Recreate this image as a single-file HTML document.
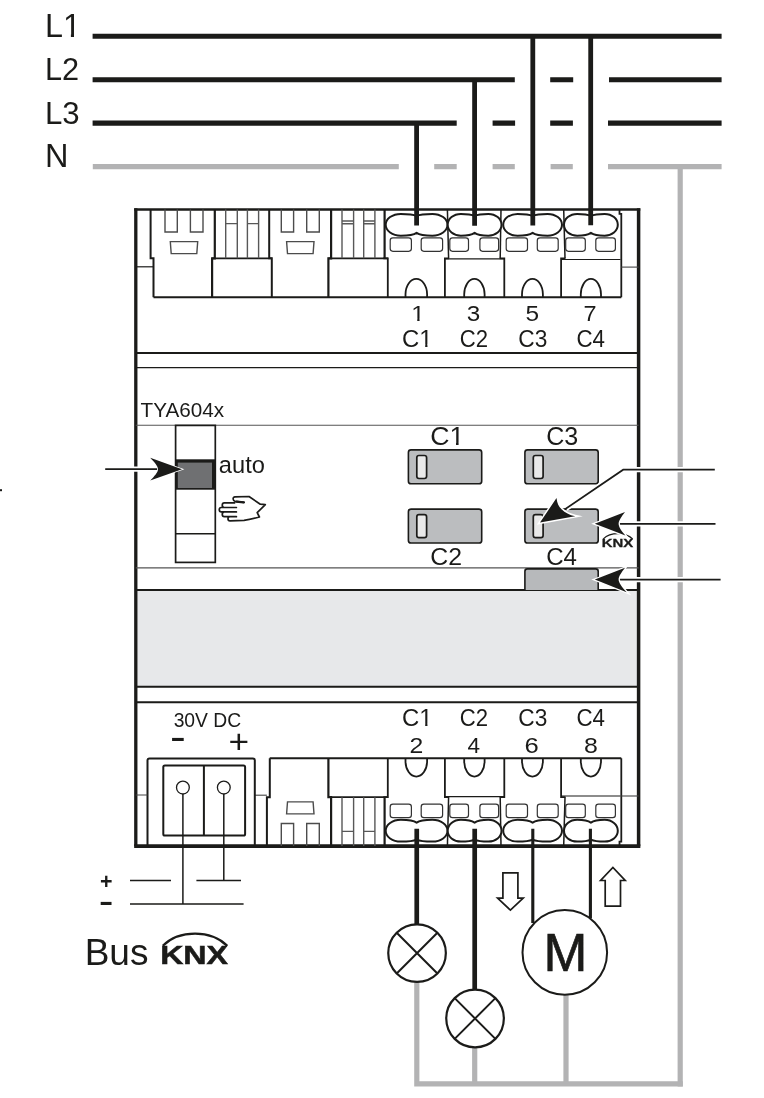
<!DOCTYPE html>
<html><head><meta charset="utf-8"><title>TYA604x</title>
<style>
html,body{margin:0;padding:0;background:#fff}
svg{display:block}
text{font-family:"Liberation Sans",sans-serif;fill:#1b1b19}
svg{will-change:transform}
</style></head><body>
<svg width="764" height="1098" viewBox="0 0 764 1098">
<rect width="764" height="1098" fill="#fff"/>

<g stroke="#1b1b19" stroke-width="5.1" fill="none">
<path d="M92.6,36.2H721.6"/>
<path d="M92.6,79.7H514.8M550.2,79.7H573.2M609,79.7H721.6"/>
<path d="M92.6,123.1H456.7M492.6,123.1H515.1M550.2,123.1H572.9M608,123.1H721.6"/>
</g>
<g stroke="#b3b3b4" stroke-width="5.2" fill="none">
<path d="M92.8,166.6H398.8M434.2,166.6H456.7M492.6,166.6H514.8M550.6,166.6H572.8M608,166.6H721.6"/>
<path d="M680.2,166.6V1086.4"/>
<path d="M416.8,980V1083.8H682.8"/>
<path d="M474.7,1046V1083.8M566,993V1083.8"/>
</g>
<rect x="135.8" y="590" width="502.8" height="96.8" fill="#e7e8ea"/>
<g stroke="#1b1b19" fill="none">
<path d="M135.8,208.3V846.2" stroke-width="3.3"/><path d="M638.6,208.3V846.2" stroke-width="3.5"/>
<path d="M134.15,846.2H640.35" stroke-width="3.8"/>
<path d="M134.20000000000002,209.5H640.3000000000001" stroke-width="2.5"/>
<path d="M135.8,353.1H638.6M135.8,590H638.6M135.8,686.8H638.6M135.8,702.2H638.6" stroke-width="2"/>
<path d="M135.8,367.6H638.6" stroke-width="1.1"/>
<path d="M135.8,425.2H638.6M135.8,567.9H638.6" stroke-width="1.1" stroke="#555"/>
</g>
<g fill="none" stroke="#1b1b19">
<path d="M153.5,297.3H621.3" stroke-width="2"/>
<path d="M150.6,209.5V258.3H153.5V297.3" stroke-width="2"/>
<path d="M135.8,266.8H153.5" stroke-width="1.2"/>
<g stroke="#4c4c4c" stroke-width="1.4">
<path d="M165,209.5V232H177.3V209.5M190.4,209.5V232H203V209.5"/>
<path d="M170.3,241.6H197.7L196.8,253.6H171.2Z"/>
</g>
<path d="M214.8,209.5V258.3H212.1V297.3" stroke-width="2.2"/>
<path d="M212.1,258.3H271.8" stroke-width="1.8"/>
<path d="M269.2,209.5V258.3H271.8V297.3" stroke-width="2"/>
<g stroke="#585858" stroke-width="1.4">
<path d="M225.7,209.5V258.3M237.3,209.5V258.3M247.4,209.5V258.3M258.6,209.5V258.3"/>
<path d="M225.7,223.6H237.3M247.4,223.6H258.6"/>
</g>
<g stroke="#4c4c4c" stroke-width="1.4">
<path d="M281.3,209.5V232H293.6V209.5M306.7,209.5V232H319.3V209.5"/>
<path d="M286.6,241.6H314.0L313.1,253.6H287.5Z"/>
</g>
<path d="M331.1,209.5V258.3H328.4V297.3" stroke-width="2.2"/>
<path d="M328.4,258.3H388.1" stroke-width="1.8"/>
<g stroke="#585858" stroke-width="1.4">
<path d="M342.0,209.5V258.3M353.6,209.5V258.3M363.7,209.5V258.3M374.90000000000003,209.5V258.3"/>
<path d="M342.0,221H353.6M363.7,221H374.90000000000003M342.0,223.7H353.6M363.7,223.7H374.90000000000003"/>
</g>
<path d="M384.6,209.5V258.3" stroke-width="2.2"/>
<path d="M383.3,258.3H387.8V297.3" stroke-width="1.8"/>
<path d="M447.4,209.5L448.6,258.3" stroke-width="1.5"/>
<path d="M449.1,258.3H444.9V297.3" stroke-width="1.8"/>
<path d="M444.9,258.90000000000003H504.3" stroke-width="1.4"/>
<path d="M501,209.5L500.2,258.3" stroke-width="1.5"/>
<path d="M499.7,258.3H504.3V297.3" stroke-width="1.8"/>
<path d="M563.7,209.5L565,258.3" stroke-width="1.5"/>
<path d="M565.5,258.3H561.1V297.3" stroke-width="1.8"/>
<path d="M561.1,259.5H620.5" stroke-width="1.2"/>
<path d="M619.5,209.5V213.8H621.3V297.3" stroke-width="1.8"/>
<path d="M621.3,267.1H638.6" stroke-width="1.1" stroke="#444"/>
<path d="M416.60,215.90 C413.20,214.25 406.83,213.90 400.84,213.90 C392.36,213.90 385.70,218.70 385.70,224.80 C385.70,230.90 392.36,235.70 400.84,235.70 C406.83,235.70 413.20,235.35 416.60,232.90 C420.00,235.35 426.37,235.70 432.36,235.70 C440.84,235.70 447.50,230.90 447.50,224.80 C447.50,218.70 440.84,213.90 432.36,213.90 C426.37,213.90 420.00,214.25 416.60,215.90 Z" stroke-width="2" fill="#fff"/>
<rect x="390.2" y="237.8" width="21.2" height="13.5" rx="2.7" stroke="#333" stroke-width="1.2"/>
<rect x="421.2" y="237.8" width="21.4" height="13.5" rx="2.7" stroke="#333" stroke-width="1.2"/>
<path d="M405.5,297.3V294.3A10.80 15.4 0 0 1 427.1,294.3V297.3" stroke-width="1.8"/>
<path d="M474.60,215.90 C471.20,214.25 466.09,213.90 460.88,213.90 C453.50,213.90 447.70,218.70 447.70,224.80 C447.70,230.90 453.50,235.70 460.88,235.70 C466.09,235.70 471.20,235.35 474.60,232.90 C478.00,235.35 483.11,235.70 488.32,235.70 C495.70,235.70 501.50,230.90 501.50,224.80 C501.50,218.70 495.70,213.90 488.32,213.90 C483.11,213.90 478.00,214.25 474.60,215.90 Z" stroke-width="2" fill="#fff"/>
<rect x="449.8" y="237.8" width="18.7" height="13.5" rx="2.7" stroke="#333" stroke-width="1.2"/>
<rect x="479.9" y="237.8" width="18.7" height="13.5" rx="2.7" stroke="#333" stroke-width="1.2"/>
<path d="M464.2,297.3V294.3A10.20 15.4 0 0 1 484.6,294.3V297.3" stroke-width="1.8"/>
<path d="M532.60,215.90 C529.20,214.25 523.30,213.90 517.61,213.90 C509.54,213.90 503.20,218.70 503.20,224.80 C503.20,230.90 509.54,235.70 517.61,235.70 C523.30,235.70 529.20,235.35 532.60,232.90 C536.00,235.35 541.90,235.70 547.59,235.70 C555.66,235.70 562.00,230.90 562.00,224.80 C562.00,218.70 555.66,213.90 547.59,213.90 C541.90,213.90 536.00,214.25 532.60,215.90 Z" stroke-width="2" fill="#fff"/>
<rect x="506.2" y="237.8" width="21.3" height="13.5" rx="2.7" stroke="#333" stroke-width="1.2"/>
<rect x="537.3" y="237.8" width="20.9" height="13.5" rx="2.7" stroke="#333" stroke-width="1.2"/>
<path d="M522.0,297.3V294.3A10.45 15.4 0 0 1 542.9,294.3V297.3" stroke-width="1.8"/>
<path d="M590.90,215.90 C587.50,214.25 582.39,213.90 577.18,213.90 C569.80,213.90 564.00,218.70 564.00,224.80 C564.00,230.90 569.80,235.70 577.18,235.70 C582.39,235.70 587.50,235.35 590.90,232.90 C594.30,235.35 599.41,235.70 604.62,235.70 C612.00,235.70 617.80,230.90 617.80,224.80 C617.80,218.70 612.00,213.90 604.62,213.90 C599.41,213.90 594.30,214.25 590.90,215.90 Z" stroke-width="2" fill="#fff"/>
<rect x="565.7" y="237.8" width="19.6" height="13.5" rx="2.7" stroke="#333" stroke-width="1.2"/>
<rect x="595.8" y="237.8" width="19.6" height="13.5" rx="2.7" stroke="#333" stroke-width="1.2"/>
<path d="M580.8,297.3V294.3A10.10 15.4 0 0 1 601.0,294.3V297.3" stroke-width="1.8"/>
</g>
<g transform="translate(0,1055.5) scale(1,-1)" fill="none" stroke="#1b1b19">
<path d="M269.7,297.3H621.3" stroke-width="2"/>
<path d="M266.9,209.5V258.3H269.8V297.3" stroke-width="2"/>
<path d="M254.8,260.3H266.9" stroke-width="1.1" stroke="#444"/>
<g stroke="#4c4c4c" stroke-width="1.4">
<path d="M281.3,209.5V232H293.6V209.5M306.7,209.5V232H319.3V209.5"/>
<path d="M286.6,241.6H314.0L313.1,253.6H287.5Z"/>
</g>
<path d="M331.1,209.5V258.3H328.4V297.3" stroke-width="2.2"/>
<path d="M328.4,258.3H388.1" stroke-width="1.8"/>
<g stroke="#585858" stroke-width="1.4">
<path d="M342.0,209.5V258.3M353.6,209.5V258.3M363.7,209.5V258.3M374.90000000000003,209.5V258.3"/>
<path d="M342.0,224.1H353.6M363.7,224.1H374.90000000000003"/>
</g>
<path d="M384.6,209.5V258.3" stroke-width="2.2"/>
<path d="M383.3,258.3H387.8V297.3" stroke-width="1.8"/>
<path d="M447.4,209.5L448.6,258.3" stroke-width="1.5"/>
<path d="M449.1,258.3H444.9V297.3" stroke-width="1.8"/>
<path d="M444.9,258.90000000000003H504.3" stroke-width="1.4"/>
<path d="M501,209.5L500.2,258.3" stroke-width="1.5"/>
<path d="M499.7,258.3H504.3V297.3" stroke-width="1.8"/>
<path d="M563.7,209.5L565,258.3" stroke-width="1.5"/>
<path d="M565.5,258.3H561.1V297.3" stroke-width="1.8"/>
<path d="M561.1,259.5H620.5" stroke-width="1.2"/>
<path d="M619.5,209.5V213.8H621.3V297.3" stroke-width="1.8"/>
<path d="M621.3,259.5H638.6" stroke-width="1.1" stroke="#444"/>
<path d="M416.60,215.90 C413.20,214.25 406.83,213.90 400.84,213.90 C392.36,213.90 385.70,218.70 385.70,224.80 C385.70,230.90 392.36,235.70 400.84,235.70 C406.83,235.70 413.20,235.35 416.60,232.90 C420.00,235.35 426.37,235.70 432.36,235.70 C440.84,235.70 447.50,230.90 447.50,224.80 C447.50,218.70 440.84,213.90 432.36,213.90 C426.37,213.90 420.00,214.25 416.60,215.90 Z" stroke-width="2" fill="#fff"/>
<rect x="390.2" y="237.8" width="21.2" height="13.5" rx="2.7" stroke="#333" stroke-width="1.2"/>
<rect x="421.2" y="237.8" width="21.4" height="13.5" rx="2.7" stroke="#333" stroke-width="1.2"/>
<path d="M405.5,297.3V294.3A10.80 15.4 0 0 1 427.1,294.3V297.3" stroke-width="1.8"/>
<path d="M474.60,215.90 C471.20,214.25 466.09,213.90 460.88,213.90 C453.50,213.90 447.70,218.70 447.70,224.80 C447.70,230.90 453.50,235.70 460.88,235.70 C466.09,235.70 471.20,235.35 474.60,232.90 C478.00,235.35 483.11,235.70 488.32,235.70 C495.70,235.70 501.50,230.90 501.50,224.80 C501.50,218.70 495.70,213.90 488.32,213.90 C483.11,213.90 478.00,214.25 474.60,215.90 Z" stroke-width="2" fill="#fff"/>
<rect x="449.8" y="237.8" width="18.7" height="13.5" rx="2.7" stroke="#333" stroke-width="1.2"/>
<rect x="479.9" y="237.8" width="18.7" height="13.5" rx="2.7" stroke="#333" stroke-width="1.2"/>
<path d="M464.2,297.3V294.3A10.20 15.4 0 0 1 484.6,294.3V297.3" stroke-width="1.8"/>
<path d="M532.60,215.90 C529.20,214.25 523.30,213.90 517.61,213.90 C509.54,213.90 503.20,218.70 503.20,224.80 C503.20,230.90 509.54,235.70 517.61,235.70 C523.30,235.70 529.20,235.35 532.60,232.90 C536.00,235.35 541.90,235.70 547.59,235.70 C555.66,235.70 562.00,230.90 562.00,224.80 C562.00,218.70 555.66,213.90 547.59,213.90 C541.90,213.90 536.00,214.25 532.60,215.90 Z" stroke-width="2" fill="#fff"/>
<rect x="506.2" y="237.8" width="21.3" height="13.5" rx="2.7" stroke="#333" stroke-width="1.2"/>
<rect x="537.3" y="237.8" width="20.9" height="13.5" rx="2.7" stroke="#333" stroke-width="1.2"/>
<path d="M522.0,297.3V294.3A10.45 15.4 0 0 1 542.9,294.3V297.3" stroke-width="1.8"/>
<path d="M590.90,215.90 C587.50,214.25 582.39,213.90 577.18,213.90 C569.80,213.90 564.00,218.70 564.00,224.80 C564.00,230.90 569.80,235.70 577.18,235.70 C582.39,235.70 587.50,235.35 590.90,232.90 C594.30,235.35 599.41,235.70 604.62,235.70 C612.00,235.70 617.80,230.90 617.80,224.80 C617.80,218.70 612.00,213.90 604.62,213.90 C599.41,213.90 594.30,214.25 590.90,215.90 Z" stroke-width="2" fill="#fff"/>
<rect x="565.7" y="237.8" width="19.6" height="13.5" rx="2.7" stroke="#333" stroke-width="1.2"/>
<rect x="595.8" y="237.8" width="19.6" height="13.5" rx="2.7" stroke="#333" stroke-width="1.2"/>
<path d="M580.8,297.3V294.3A10.10 15.4 0 0 1 601.0,294.3V297.3" stroke-width="1.8"/>
</g>
<g fill="none" stroke="#1b1b19">
<path d="M147.5,846.2V760.3Q147.5,758.4 149.5,758.4H252.8Q254.8,758.4 254.8,760.3V846.2" stroke-width="2"/>
<rect x="163.3" y="765.5" width="81.8" height="70" rx="1.6" stroke-width="2"/>
<path d="M203.9,765.5V835.5" stroke-width="2"/>
<path d="M135.8,795H147.5" stroke-width="1" stroke="#444"/>
<circle cx="182.9" cy="787.6" r="6.4" stroke-width="1.3"/><circle cx="223.8" cy="787.6" r="6.4" stroke-width="1.3"/>
<path d="M182.9,794V904M223.8,794V880.6M130,880.6H171M196.4,880.6H241M130,903.9H243.6" stroke-width="1.5"/>
</g>
<g stroke="#1b1b19" fill="none">
<path d="M416.6,123V225.5M474.6,79.6V225.8M532.8,36.1V225.5M590.7,36.1V225.2" stroke-width="4.8"/>
<path d="M416.75,828.8V925M474.7,828.8V990" stroke-width="4.7"/>
<path d="M532.8,828.8V923M590.4,828.8V918.6" stroke-width="3.1"/>
</g>
<g stroke="#1b1b19" fill="#fff">
<circle cx="417.05" cy="953.1" r="28.8" stroke-width="2.2"/>
<path d="M396.69,932.74L437.41,973.46M437.41,932.74L396.69,973.46" stroke-width="2"/>
<circle cx="475.05" cy="1018.5" r="28.8" stroke-width="2.2"/>
<path d="M454.69,998.14L495.41,1038.86M495.41,998.14L454.69,1038.86" stroke-width="2"/>
<circle cx="564.8" cy="952.4" r="42.3" stroke-width="2"/>
</g>
<g stroke="#1b1b19" fill="#fff" stroke-width="1.7" stroke-linejoin="miter">
<path d="M502.9,872.8H517.9V898.1H523.2L510.4,910.1L497.6,898.1H502.9Z"/>
<path d="M605.2,906.1H620.5V880.5H625.2L612.9,867.4L600.6,880.5H605.2Z"/>
</g>
<g stroke="#1b1b19" fill="none">
<rect x="175.6" y="425.4" width="39.7" height="137" stroke-width="1.7" fill="#fff"/>
<rect x="175.6" y="459.3" width="39.7" height="30.4" fill="#1b1b19" stroke="none"/>
<rect x="177.8" y="462.6" width="34.2" height="25.4" fill="#6f7072" stroke="none"/>
<path d="M175.6,533.7H215.3" stroke-width="1.6"/>
</g>
<path d="M244.2,502.3L235.2,501.3C232.6,500.8 232.4,497 235,496.9L249,496.5L260.3,504.2L265.3,504.6L257.2,512.7L259.4,517C254,518.6 249,519.9 244,520.3L230,520.8C227.3,520.8 227.3,516.7 230,516.7H236.4M236.4,507.5H221.3C218.6,507.5 218.6,511.9 221.3,511.9H236.4M234.5,502.9H224.3C221.6,502.9 221.6,507.5 224.3,507.5M224.3,511.9C221.6,511.9 221.6,516.6 224.3,516.6H236.4" fill="none" stroke="#1b1b19" stroke-width="1.7" stroke-linejoin="round" stroke-linecap="round"/>
<path d="M236.5,501.6L243.6,502.4" stroke="#1b1b19" stroke-width="2.2" stroke-linecap="round"/>
<g stroke="#1b1b19" stroke-width="1.6">
<rect x="408.4" y="449.9" width="73.3" height="33.9" rx="2.6" fill="#bbbdbf"/>
<rect x="416.79999999999995" y="455.5" width="9.8" height="23" rx="2.2" fill="#e9e9e9" stroke-width="1.7"/>
<rect x="408.4" y="509.1" width="73.3" height="33.9" rx="2.6" fill="#bbbdbf"/>
<rect x="416.79999999999995" y="514.7" width="9.8" height="23" rx="2.2" fill="#e9e9e9" stroke-width="1.7"/>
<rect x="524.9" y="449.9" width="73.3" height="33.9" rx="2.6" fill="#bbbdbf"/>
<rect x="533.3" y="455.5" width="9.8" height="23" rx="2.2" fill="#e9e9e9" stroke-width="1.7"/>
<rect x="524.9" y="509.1" width="73.3" height="33.9" rx="2.6" fill="#bbbdbf"/>
<rect x="533.3" y="514.7" width="9.8" height="23" rx="2.2" fill="#e9e9e9" stroke-width="1.7"/>
<path d="M524.9,590V571.4Q524.9,568.9 527.4,568.9H595.7Q598.2,568.9 598.2,571.4V590" fill="#b7b9bb"/>
</g>
<text transform="translate(160.15,963.60) scale(1.2611,1)" font-size="25.51" font-weight="700" stroke="#1b1b19" stroke-width="0.5">KNX</text>
<path d="M162.80,945.80C171.54,937.20 183.95,933.68 195.05,933.68C208.11,933.68 219.86,938.61 227.30,945.90" fill="none" stroke="#1b1b19" stroke-width="2.3"/>
<text transform="translate(601.76,547.00) scale(1.2874,1)" font-size="11.59" font-weight="700" stroke="#1b1b19" stroke-width="0.3">KNX</text>
<path d="M603.30,538.90C607.11,535.20 612.83,533.64 617.95,533.64C623.97,533.64 629.39,535.82 632.60,539.00" fill="none" stroke="#1b1b19" stroke-width="1.3"/>
<g stroke-linejoin="miter" stroke-miterlimit="10">
<path d="M105.2,469.2H155" stroke="#fff" stroke-width="5.2" fill="none"/>
<path d="M105.2,469.2H160" stroke="#1b1b19" stroke-width="1.7" fill="none"/>
<path d="M182,469.2L150.2,457.8C154.5,462.5 158,466 158,469.2C158,472.4 154.5,476 150.2,480.6Z" fill="#fff" stroke="#fff" stroke-width="1.6"/>
<path d="M182,469.2L150.2,457.8C154.5,462.5 158,466 158,469.2C158,472.4 154.5,476 150.2,480.6Z" fill="#1b1b19"/>
<path d="M714.8,469.7H623.2L566,508.6" stroke="#fff" stroke-width="5.2" fill="none"/>
<path d="M714.8,469.7H623.2L561.5,511.6" stroke="#1b1b19" stroke-width="1.7" fill="none"/>
<path d="M540,522.6L556.5,498C557.2,503.4 558.6,507 561.8,509.4C565,512.6 569.3,514.9 575.2,516.2Z" fill="#fff" stroke="#fff" stroke-width="3.0"/>
<path d="M540,522.6L556.5,498C557.2,503.4 558.6,507 561.8,509.4C565,512.6 569.3,514.9 575.2,516.2Z" fill="#1b1b19"/>
<path d="M715.5,523.8H624" stroke="#fff" stroke-width="5.2" fill="none"/>
<path d="M715.5,523.8H619" stroke="#1b1b19" stroke-width="1.7" fill="none"/>
<path d="M594.8,523.8L625,511.9C621.5,516.5 618.6,520.6 618.6,523.8C618.6,527 621.5,531 625.4,535.6Z" fill="#fff" stroke="#fff" stroke-width="2.6"/>
<path d="M594.8,523.8L625,511.9C621.5,516.5 618.6,520.6 618.6,523.8C618.6,527 621.5,531 625.4,535.6Z" fill="#1b1b19"/>
<path d="M720.6,579.6H624" stroke="#fff" stroke-width="5.2" fill="none"/>
<path d="M720.6,579.6H619" stroke="#1b1b19" stroke-width="1.7" fill="none"/>
<path d="M594.8,579.6L625,567.8C621.5,572.4 618.6,576.4 618.6,579.6C618.6,582.8 621.8,587 626.6,592.2Z" fill="#fff" stroke="#fff" stroke-width="2.6"/>
<path d="M594.8,579.6L625,567.8C621.5,572.4 618.6,576.4 618.6,579.6C618.6,582.8 621.8,587 626.6,592.2Z" fill="#1b1b19"/>
</g>
<text transform="translate(44.91,36.90) scale(0.9963,1)" font-size="32.46">L1</text>
<rect x="64.36" y="33.49" width="6.53" height="3.90" fill="#fff"/>
<rect x="74.00" y="33.49" width="7.67" height="3.90" fill="#fff"/>
<text transform="translate(45.04,80.30) scale(0.9641,1)" font-size="31.86">L2</text>
<text transform="translate(45.00,123.68) scale(0.9806,1)" font-size="31.83">L3</text>
<text transform="translate(44.90,167.40) scale(0.9967,1)" font-size="32.61">N</text>
<text transform="translate(411.22,321.00) scale(1.1200,1)" font-size="21.74">1</text>
<rect x="412.32" y="318.72" width="4.92" height="2.61" fill="#fff"/>
<rect x="419.57" y="318.72" width="5.77" height="2.61" fill="#fff"/>
<text transform="translate(466.73,321.28) scale(1.0831,1)" font-size="22.39">3</text>
<text transform="translate(525.52,321.27) scale(1.0772,1)" font-size="22.71">5</text>
<text transform="translate(583.43,321.00) scale(1.0672,1)" font-size="22.00">7</text>
<text transform="translate(402.00,346.96) scale(0.9927,1)" font-size="24.08">C1</text>
<rect x="420.35" y="344.43" width="4.83" height="2.89" fill="#fff"/>
<rect x="427.47" y="344.43" width="5.67" height="2.89" fill="#fff"/>
<text transform="translate(459.69,346.96) scale(0.9184,1)" font-size="24.08">C2</text>
<text transform="translate(518.36,346.96) scale(0.9430,1)" font-size="24.08">C3</text>
<text transform="translate(576.38,346.96) scale(0.9273,1)" font-size="24.08">C4</text>
<text transform="translate(402.00,726.36) scale(0.9812,1)" font-size="24.37">C1</text>
<rect x="420.35" y="723.80" width="4.83" height="2.92" fill="#fff"/>
<rect x="427.47" y="723.80" width="5.67" height="2.92" fill="#fff"/>
<text transform="translate(459.69,726.36) scale(0.9078,1)" font-size="24.37">C2</text>
<text transform="translate(518.36,726.36) scale(0.9321,1)" font-size="24.37">C3</text>
<text transform="translate(576.38,726.36) scale(0.9166,1)" font-size="24.37">C4</text>
<text transform="translate(409.46,753.10) scale(1.1050,1)" font-size="22.43">2</text>
<text transform="translate(467.55,753.10) scale(1.0250,1)" font-size="22.00">4</text>
<text transform="translate(524.42,753.27) scale(1.1312,1)" font-size="22.68">6</text>
<text transform="translate(584.00,753.27) scale(1.0978,1)" font-size="22.68">8</text>
<text transform="translate(430.17,445.45) scale(1.0640,1)" font-size="25.07">C1</text>
<rect x="450.63" y="442.82" width="5.39" height="3.01" fill="#fff"/>
<rect x="458.58" y="442.82" width="6.32" height="3.01" fill="#fff"/>
<text transform="translate(546.15,445.45) scale(1.0006,1)" font-size="25.07">C3</text>
<text transform="translate(430.26,564.75) scale(1.0074,1)" font-size="24.65">C2</text>
<text transform="translate(546.20,564.75) scale(0.9771,1)" font-size="24.65">C4</text>
<text transform="translate(140.49,417.39) scale(0.9942,1)" font-size="20.85">TYA604x</text>
<text transform="translate(218.85,472.87) scale(1.0073,1)" font-size="23.48">auto</text>
<text transform="translate(173.63,726.89) scale(0.9335,1)" font-size="20.70">30V DC</text>
<text transform="translate(84.63,965.23) scale(0.9907,1)" font-size="37.43">Bus</text>
<text transform="translate(543.39,970.90) scale(0.9773,1)" font-size="53.91" stroke="#1b1b19" stroke-width="0.7">M</text>
<text transform="translate(170.36,746.23) scale(1.7250,1)" font-size="26.67" font-weight="700">-</text>
<text transform="translate(228.53,752.61) scale(1.0549,1)" font-size="33.47">+</text>
<text transform="translate(99.94,888.90) scale(0.9490,1)" font-size="22.55" font-weight="700">+</text>
<text transform="translate(99.09,910.43) scale(1.6050,1)" font-size="26.67" font-weight="700">-</text>
<rect x="0" y="489.2" width="2" height="2" fill="#1b1b19"/>
</svg></body></html>
